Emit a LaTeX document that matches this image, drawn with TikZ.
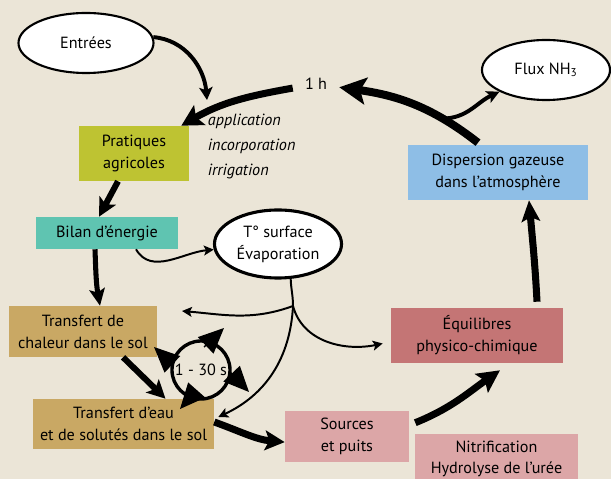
\documentclass[tikz,border=0pt]{standalone}
\usepackage{fontspec}
\setmainfont{PT Sans}
\usepackage{xcolor}
\usepackage{tikz}
\usetikzlibrary{shapes.geometric, arrows.meta, positioning, calc}
\definecolor{bgbeige}{RGB}{235,229,215}
\definecolor{pratgreen}{RGB}{190,195,50}
\definecolor{bilanteal}{RGB}{95,196,177}
\definecolor{soltan}{RGB}{201,168,100}
\definecolor{sourcepink}{RGB}{220,166,167}
\definecolor{equilred}{RGB}{196,117,117}
\definecolor{dispblue}{RGB}{142,190,230}
\tikzstyle{thinarrow} = [line width=1.4pt, -{Stealth[length=7pt, width=7pt, inset=1.5pt]}]

\begin{document}
\begin{tikzpicture}[x=0.025cm, y=0.025cm,
        % Define a style for the coloured boxes and the ovals
        box/.style={minimum height=1.375cm, align=center, font=\fontsize{11.5}{15.5}\selectfont},
        oval/.style={ellipse, draw, fill=white, line width=1.5pt, inner sep=1pt, align=center, font=\fontsize{11.5}{15.5}\selectfont}
    ]
        % --- Background and frame ---
        \clip (0,0) rectangle (611,479);
        \fill[bgbeige] (0,0) rectangle (611,479);

        % --- Ovals ---
        \node (entrees) [oval, minimum width=3.375cm, minimum height=1.5cm] at (86,436) {Entrées};
        \node (flux)    [oval, minimum width=3.2cm, minimum height=1.5cm] at (546,409) {Flux NH\textsubscript{3}};
        \node (tsurf)   [oval, line width=2.2pt, minimum width=3.175cm, minimum height=1.7cm] at (278,235) {T° surface\\Évaporation};

        % --- Boxes at fixed positions ---
        \node (prat)    [box, fill=pratgreen, minimum width=2.75cm] at (134,325.5) {Pratiques\\agricoles};
        \node (bilan)   [box, fill=bilanteal, minimum width=3.55cm, minimum height=0.8cm] at (107,246) {Bilan d’énergie};
        \node (chaleur) [box, fill=soltan, minimum width=3.7cm, minimum height=1.275cm] at (83,147.5) {Transfert de\\chaleur dans le sol};
        \node (eau)     [box, fill=soltan, minimum width=4.525cm, minimum height=1.25cm] at (123.5,55) {Transfert d’eau\\et de solutés dans le sol};
        \node (sources) [box, fill=sourcepink, minimum width=3.1cm, minimum height=1.275cm] at (347,42.5) {Sources\\et puits};
        \node (nitri)   [box, fill=sourcepink, minimum width=4.075cm, minimum height=1.25cm] at (496.5,20) {Nitrification\\Hydrolyse de l’urée};
        \node (equil)   [box, fill=equilred, minimum width=4.3cm] at (477,143.5) {Équilibres\\physico-chimique};
        \node (disp)    [box, fill=dispblue, minimum width=4.5cm] at (498,306.5) {Dispersion gazeuse\\dans l’atmosphère};

        % --- Labels ---
        \node (onehour) [inner xsep=0.3cm, font=\fontsize{11.5}{15.5}\selectfont] at (316,395) {1 h};
        \node (pratlab) [right, align=left, font=\itshape\fontsize{11.5}{18}\selectfont] at (203,332.5) {application\\incorporation\\irrigation};
        \node (cyc) [circle, draw, line width=2.4pt, minimum size=1.45cm, inner sep=0pt, font=\fontsize{11.5}{15.5}\selectfont] at (201,109) {1 - 30 s};

        % --- Top of the loop ---
        \coordinate (entin) at (207,379);
        \draw[line width=2.8pt, -{Stealth[length=9pt, width=9.5pt, inset=2pt]}]
            (entrees.5) to[out=-5, in=95] (entin);
        \draw[line width=5.7pt, -{Stealth[length=19pt, width=19pt, inset=4pt]}]
            ([shift={(-5mm,0.5mm)}]disp.north) to[out=142, in=-8] coordinate[pos=0.27] (nhsplit) (onehour);
        \draw[line width=2.8pt, -{Stealth[length=9pt, width=9pt, inset=2pt]}]
            (nhsplit) to[out=0, in=205] (flux.205);
        \draw[line width=5pt, -{Stealth[length=15pt, width=16pt, inset=3pt]}]
            (onehour) to[out=190, in=30] ([xshift=-2mm]prat.north east);

        % --- Left side, down to the soil ---
        \draw[line width=4.3pt, -{Stealth[length=13pt, width=13pt, inset=3pt]}]
            ([xshift=-4mm]prat.south) -- ([xshift=-2mm]bilan.north);
        \draw[line width=3.6pt, -{Stealth[length=12pt, width=11pt, inset=2.5pt]}]
            ([xshift=-3mm]bilan.south) to[out=-88, in=100] ([xshift=4.25mm]chaleur.north);
        \draw[thinarrow] ([xshift=7.25mm]bilan.south) to[out=-60, in=185] (tsurf.185);
        \draw[line width=4.3pt, -{Stealth[length=13pt, width=13pt, inset=3pt]}]
            ([xshift=1cm]chaleur.south) -- ([xshift=1.05cm]eau.north);

        % --- Evaporation split ---
        \coordinate (tsplit) at (293,173);
        \coordinate (heatin) at (182,168);
        \draw[line width=1.4pt] (tsurf.-70) to[out=-88, in=90] (tsplit);
        \draw[thinarrow] (tsplit) to[out=200, in=-5] (heatin);
        \draw[thinarrow] (tsplit) to[out=-75, in=192] ([shift={(-2mm,-2mm)}]equil.west);
        \draw[thinarrow] (tsplit) to[out=-93, in=25] ([shift={(1mm,1.75mm)}]eau.east);

        % --- Bottom and right side ---
        \draw[line width=5pt, -{Stealth[length=14pt, width=14pt, inset=3pt]}]
            ([yshift=0.5mm]eau.east) to[out=-20, in=175] ([yshift=-1.4mm]sources.west);
        \draw[line width=5pt, -{Stealth[length=16pt, width=16pt, inset=3pt]}]
            ([shift={(1.5mm,-3mm)}]sources.north east) to[out=22, in=215] ([shift={(5.75mm,-1.75mm)}]equil.south);
        \draw[line width=5pt, -{Stealth[length=15pt, width=13pt, inset=3pt]}]
            ([shift={(1.5cm,1.5mm)}]equil.north) to[out=93, in=-85] ([xshift=7.75mm]disp.south);

        % --- Heads round the 1 - 30 s cycle ---
        \foreach \bx/\by/\dx/\dy in {3/23/20/19, -29/6/-18/17, 29/-2/19/-20, -6/-22/-15/-17}
            \draw[line width=1pt, -{Triangle[length=18pt, width=16pt]}] (cyc.center) ++(\bx,\by) -- ++(\dx,\dy);

    \end{tikzpicture}
\end{document}
